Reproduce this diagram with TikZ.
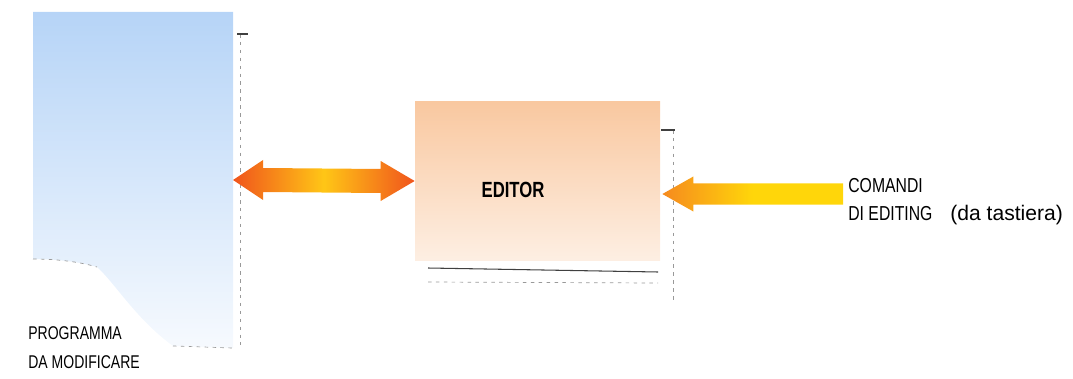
\documentclass[tikz,border=0pt]{standalone}
\usepackage{fontspec}
\setmainfont{Liberation Sans}
\newfontfamily\narrowsans{Liberation Sans}[FakeStretch=0.76]
\newfontfamily\keysans{Liberation Sans}[FakeStretch=0.78]
\usetikzlibrary{calc}

\definecolor{pageblue}{RGB}{182,212,247}
\definecolor{editorpeach}{RGB}{249,200,160}
\definecolor{arrowred}{RGB}{240,84,28}
\definecolor{arrowyellow}{RGB}{255,198,22}
\definecolor{arroworange}{RGB}{246,138,30}
\definecolor{keyyellow}{RGB}{255,214,10}

\tikzset{
    caption/.style={anchor=west, inner sep=0pt, font=\narrowsans\fontsize{10.5}{12}\selectfont},
    keycaption/.style={anchor=base west, inner sep=0pt, font=\keysans\fontsize{11.5}{14}\selectfont},
    shadowline/.style={black!75, line width=0.6pt},
    faintline/.style={black!40, line width=0.4pt, dash pattern=on 2pt off 2.5pt},
}

\begin{document}
\begin{tikzpicture}
    \useasboundingbox (0,0) rectangle (21.46,7.56);

    \coordinate (P1) at (0.66,7.32);
    \coordinate (P2) at (4.66,7.32);
    \coordinate (P3) at (4.66,0.60);
    \coordinate (P4) at (3.46,0.64);
    \coordinate (P5) at (1.94,2.22);
    \coordinate (P6) at (0.66,2.38);

    \draw [faintline] (4.80,6.88) -- (4.80,0.66);
    \draw [shadowline] (4.74,6.88) -- (4.96,6.88);
    \shade [top color=pageblue, bottom color=pageblue!12] (P1) -- (P2) -- (P3) -- (P4) .. controls (2.7,1.2) and (2.3,1.9) .. (P5) .. controls (1.5,2.35) and (1.0,2.38) .. (P6) -- cycle;
    \draw [faintline] (P6) .. controls (1.0,2.38) and (1.5,2.35) .. (P5);
    \draw [faintline] (P4) -- (P3);

    \node [rectangle, inner sep=0pt, minimum width=4.9cm, minimum height=3.16cm,
        top color=editorpeach, bottom color=editorpeach!30] (editor) at (10.75,3.94) {};
    \node [inner sep=0pt, font=\narrowsans\bfseries\fontsize{12.5}{14}\selectfont] (editorlabel) at (10.26,3.76) {EDITOR};

    \draw [shadowline] (8.56,2.20) -- (13.16,2.12);
    \draw [faintline] (8.56,1.92) -- (13.16,1.90);
    \draw [faintline] (13.46,4.96) -- (13.46,1.56);
    \draw [shadowline] (13.22,4.96) -- (13.50,4.96);

    \coordinate (pageright) at (4.66,3.96);
    \coordinate (editorleft) at (editor.west);
    \shade [left color=arrowred, right color=arrowred, middle color=arrowyellow]
        (pageright) -- ($(pageright)+(0.6,0.4)$) -- ($(pageright)+(0.6,0.24)$)
        -- ($(editorleft)+(-0.68,0.24)$) -- ($(editorleft)+(-0.68,0.4)$) -- (editorleft)
        -- ($(editorleft)+(-0.68,-0.4)$) -- ($(editorleft)+(-0.68,-0.24)$)
        -- ($(pageright)+(0.6,-0.24)$) -- ($(pageright)+(0.6,-0.4)$) -- cycle;

    \node [keycaption] (comandi) at (16.96,3.72) {COMANDI};
    \node [keycaption] (editing) at (16.96,3.16) {DI EDITING};
    \node [keycaption, font=\fontsize{12}{14}\selectfont] (tastiera) at (19.00,3.16) {(da tastiera)};

    \coordinate (keytip) at ($(editor.east)+(0.04,-0.26)$);
    \coordinate (keytail) at ($(keytip -| comandi.west)+(-0.10,0)$);
    \shade [left color=arroworange, right color=keyyellow, middle color=keyyellow]
        (keytip) -- ($(keytip)+(0.62,0.35)$) -- ($(keytip)+(0.62,0.21)$)
        -- ($(keytail)+(0,0.21)$) -- ($(keytail)+(0,-0.21)$)
        -- ($(keytip)+(0.62,-0.21)$) -- ($(keytip)+(0.62,-0.35)$) -- cycle;

    \node [caption] (programma) at (0.56,0.90) {PROGRAMMA};
    \node [caption] (modificare) at (0.56,0.32) {DA MODIFICARE};
\end{tikzpicture}
\end{document}
